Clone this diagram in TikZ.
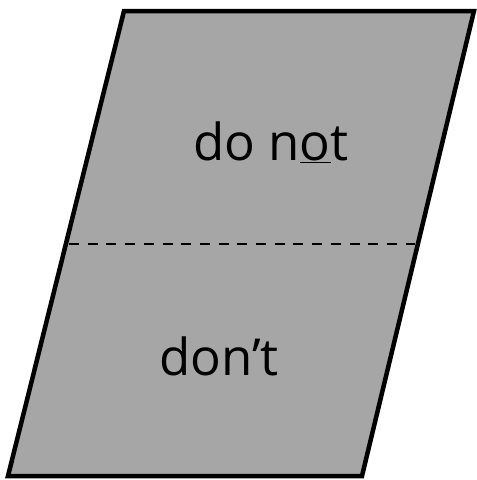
\documentclass[tikz,border=0pt]{standalone}
\usepackage{fontspec}
\setmainfont{Open Sans}
\usetikzlibrary{calc}
\definecolor{boxgray}{HTML}{A6A6A6}
\begin{document}
\begin{tikzpicture}[x=1pt,y=-1pt]
\useasboundingbox (0,0) rectangle (477,480);
\coordinate (tl) at (124,11);
\coordinate (tr) at (474,11);
\coordinate (br) at (362,476);
\coordinate (bl) at (8,476);
\draw[line width=4.5pt,fill=boxgray,line join=miter] (tl)--(tr)--(br)--(bl)--cycle;
\coordinate (ml) at ($(tl)!0.5!(bl)$);
\coordinate (mr) at ($(tr)!0.5!(br)$);
\draw[line width=2pt,dash pattern=on 10pt off 8.7pt] ([xshift=3pt]ml)--([xshift=-3pt]mr);

\node[font=\fontsize{51}{60}\selectfont,anchor=base] (donot) at (271,160) {do n\underline{o}t};
\node[font=\fontsize{51}{60}\selectfont,anchor=base] (dont) at (219,375) {don’t};
\end{tikzpicture}
\end{document}
